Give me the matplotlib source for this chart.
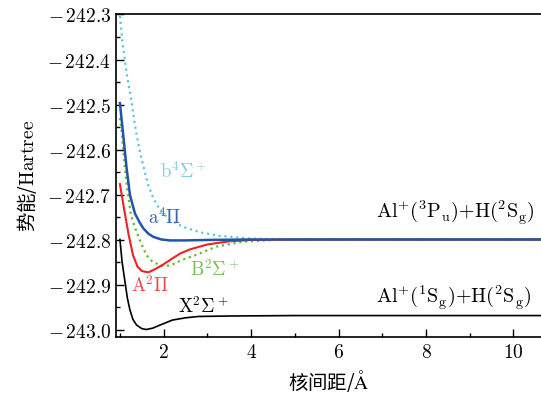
import matplotlib
matplotlib.use('Agg')
import matplotlib.pyplot as plt
from matplotlib.ticker import MultipleLocator, FuncFormatter

plt.rcParams['font.family'] = ['Noto Sans CJK SC', 'DejaVu Sans']
plt.rcParams['mathtext.fontset'] = 'cm'
plt.rcParams['axes.unicode_minus'] = True

# potential curves (R in Angstrom, E in Hartree)
r_X = [1.0, 1.05, 1.11, 1.17, 1.23, 1.3, 1.38, 1.5, 1.6, 1.75, 1.92, 2.2, 2.5, 2.8, 3.5, 5.0, 7.0, 10.8]
e_X = [-242.8, -242.85, -242.89, -242.93, -242.957, -242.978, -242.99, -242.998, -243.0, -242.997,
       -242.99, -242.979, -242.974, -242.971, -242.970, -242.969, -242.969, -242.969]

r_A = [1.0, 1.1, 1.2, 1.3, 1.4, 1.5, 1.65, 1.8, 2.0, 2.2, 2.4, 2.6, 3.0, 3.5, 4.0, 5.0, 10.8]
e_A = [-242.677, -242.735, -242.79, -242.835, -242.86, -242.870, -242.873, -242.866, -242.855,
       -242.842, -242.83, -242.822, -242.811, -242.804, -242.801, -242.8, -242.8]

r_B = [1.0, 1.04, 1.08, 1.15, 1.25, 1.35, 1.45, 1.6, 1.75, 1.95, 2.15, 2.4, 2.75, 3.2, 3.8, 4.5, 5.0, 10.8]
e_B = [-242.53, -242.56, -242.605, -242.675, -242.745, -242.775, -242.8, -242.834, -242.85, -242.858,
       -242.858, -242.846, -242.834, -242.816, -242.805, -242.801, -242.8, -242.8]

r_a = [1.0, 1.076, 1.153, 1.229, 1.343, 1.45, 1.533, 1.65, 1.762, 1.95, 2.144, 2.5, 3.0, 4.0, 10.8]
e_a = [-242.497, -242.568, -242.642, -242.701, -242.742, -242.762, -242.775, -242.787, -242.794,
       -242.8, -242.802, -242.802, -242.801, -242.8, -242.8]

r_b = [1.0, 1.06, 1.12, 1.165, 1.213, 1.268, 1.32, 1.382, 1.458, 1.549, 1.648, 1.762, 1.915,
       2.144, 2.449, 2.831, 3.288, 4.0, 5.0, 10.8]
e_b = [-242.303, -242.364, -242.408, -242.438, -242.464, -242.494, -242.531, -242.568, -242.605,
       -242.642, -242.679, -242.708, -242.734, -242.757, -242.772, -242.784, -242.792, -242.798,
       -242.8, -242.8]

fig = plt.figure(figsize=(5.41, 3.94), dpi=100)
ax = fig.add_axes([0.2144, 0.1454, 0.7856, 0.8178])

ax.plot(r_b, e_b, ':', color='#5cc8dc', lw=1.6)
ax.plot(r_B, e_B, ':', color='#66bb33', lw=1.6)
ax.plot(r_X, e_X, '-', color='black', lw=1.2)
ax.plot(r_A, e_A, '-', color='#ee2222', lw=1.5)
ax.plot(r_a, e_a, '-', color='#2255aa', lw=1.8)

# state labels
fs = 13.5
ax.text(1.915, -242.652, r'$\mathrm{b}^4\Sigma^+$', color='#7fd0dc', fontsize=fs, va='center')
ax.text(1.65, -242.754, r'$\mathrm{a}^4\Pi$', color='#3a62b4', fontsize=fs, va='center')
ax.text(1.25, -242.905, r'$\mathrm{A}^2\Pi$', color='#f04848', fontsize=fs, va='center')
ax.text(2.6, -242.868, r'$\mathrm{B}^2\Sigma^+$', color='#77c055', fontsize=fs, va='center')
ax.text(2.33, -242.95, r'$\mathrm{X}^2\Sigma^+$', color='black', fontsize=fs, va='center')
ax.text(6.86, -242.741, r'$\mathrm{Al}^{+}(^3\mathrm{P_u}){+}\mathrm{H}(^2\mathrm{S_g})$',
        color='black', fontsize=14.5, va='center')
ax.text(6.86, -242.93, r'$\mathrm{Al}^{+}(^1\mathrm{S_g}){+}\mathrm{H}(^2\mathrm{S_g})$',
        color='black', fontsize=14.5, va='center')

ax.set_xlim(0.91, 10.63)
ax.set_ylim(-243.016, -242.3)

ax.xaxis.set_major_locator(MultipleLocator(2))
ax.xaxis.set_minor_locator(MultipleLocator(1))
ax.yaxis.set_major_locator(MultipleLocator(0.1))
ax.yaxis.set_minor_locator(MultipleLocator(0.05))
ax.xaxis.set_major_formatter(FuncFormatter(lambda v, p: r'$%d$' % v))
ax.yaxis.set_major_formatter(FuncFormatter(lambda v, p: r'$-\,%.1f$' % abs(v)))

ax.tick_params(which='both', direction='in', top=False, right=False, labelsize=14)
ax.tick_params(which='major', length=6, width=1)
ax.tick_params(which='minor', length=3, width=1)
ax.spines['right'].set_visible(False)
for s in ['left', 'bottom', 'top']:
    ax.spines[s].set_linewidth(1.2)

ax.set_xlabel(r'核间距/$\mathrm{\AA}$', fontsize=14, labelpad=4)
ax.set_ylabel(r'势能/$\mathrm{Hartree}$', fontsize=14, labelpad=6)

fig.savefig('out.png', dpi=100)
